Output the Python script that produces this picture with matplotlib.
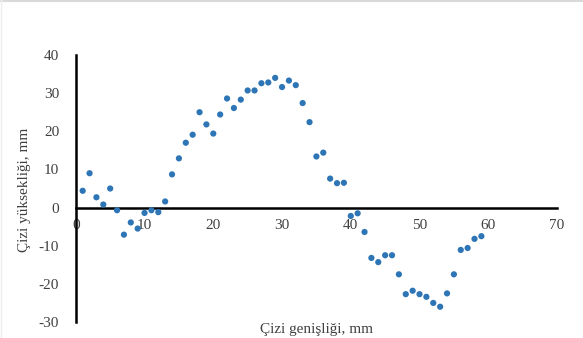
import matplotlib
matplotlib.use("Agg")
import matplotlib.pyplot as plt
from matplotlib.lines import Line2D

# profile of the scratch: width (mm) vs height (mm)
x_mm = list(range(1, 60))
y_mm = [4.4, 9.0, 2.7, 0.8, 5.0, -0.7, -7.1, -3.9, -5.5, -1.4,
        -0.7, -1.2, 1.6, 8.7, 12.9, 17.0, 19.1, 25.0, 21.8, 19.4,
        24.4, 28.6, 26.1, 28.3, 30.7, 30.7, 32.6, 32.8, 34.0, 31.6,
        33.3, 32.1, 27.4, 22.4, 13.4, 14.4, 7.6, 6.4, 6.5, -2.2,
        -1.5, -6.4, -13.2, -14.3, -12.5, -12.5, -17.5, -22.7, -21.8, -22.7,
        -23.4, -25.0, -26.0, -22.5, -17.5, -11.1, -10.6, -8.2, -7.5]

x_ticks = [0, 10, 20, 30, 40, 50, 60, 70]
y_ticks = [-30, -20, -10, 0, 10, 20, 30, 40]

W, H = 583, 338
plt.rcParams["font.family"] = ["Liberation Serif", "DejaVu Serif"]
plt.rcParams["axes.unicode_minus"] = False
fig = plt.figure(figsize=(W / 100, H / 100), dpi=100)

# faint border at the top and left edge of the image
fig.add_artist(Line2D([0, 1], [0.996, 0.996], transform=fig.transFigure,
                      color="#d9d9d9", linewidth=1.5))
fig.add_artist(Line2D([0.001, 0.001], [0, 1], transform=fig.transFigure,
                      color="#eeeeee", linewidth=1.0))

ax = fig.add_axes([75.8 / W, 1 - 322 / H, (557 - 75.8) / W, (322 - 55) / H])
ax.scatter(x_mm, y_mm, s=20, color="#2e75b6", edgecolors="none", zorder=3)

ax.set_xlim(0, 70)
ax.set_ylim(-30, 40)
ax.set_xticks(x_ticks)
ax.set_yticks(y_ticks)
ax.tick_params(length=0, labelsize=11, colors="#404040")
ax.tick_params(axis="y", pad=12)
ax.tick_params(axis="x", pad=8)

ax.spines["top"].set_visible(False)
ax.spines["right"].set_visible(False)
ax.spines["bottom"].set_position(("data", 0))
for s in ("left", "bottom"):
    ax.spines[s].set_linewidth(1.8)
    ax.spines[s].set_color("black")

fig.text(316 / W, 1 - 329 / H, "Çizi genişliği, mm", ha="center", va="center",
         fontsize=11, color="#404040")
fig.text(25 / W, 1 - 190 / H, "Çizi yüksekliği, mm", ha="center", va="center",
         rotation=90, fontsize=11, color="#404040")

fig.savefig("out.png", dpi=100)
